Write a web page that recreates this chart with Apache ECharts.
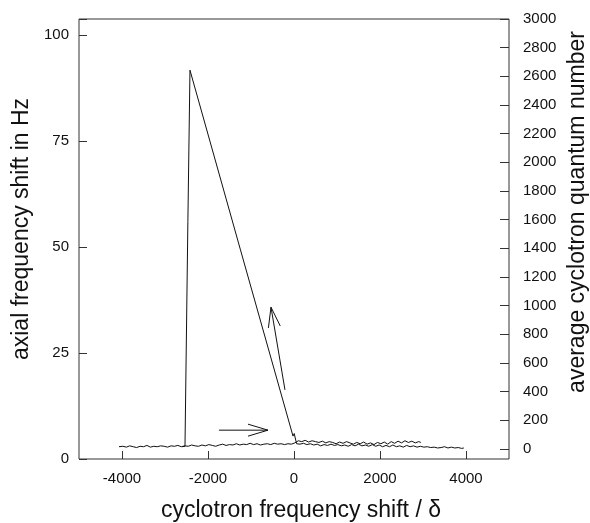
<!DOCTYPE html>
<html>
<head>
<meta charset="utf-8">
<script src="https://cdn.jsdelivr.net/npm/echarts@6/dist/echarts.min.js"></script>
<style>html,body{margin:0;padding:0;background:#fff}#c{width:590px;height:523px}</style>
</head>
<body>
<div id="c"></div>
<script>
// ---- data (x: cyclotron frequency shift / delta, y: axial frequency shift in Hz) ----
const xTicks = [-4000, -2000, 0, 2000, 4000];
const leftTicks = [0, 25, 50, 75, 100];
const rightTicks = [0, 200, 400, 600, 800, 1000, 1200, 1400, 1600, 1800, 2000, 2200, 2400, 2600, 2800, 3000];

// forward sweep along the baseline
const sweepUp = [
  [-4070,2.9],[-3980,3.0],[-3900,2.8],[-3820,3.1],[-3740,2.9],[-3660,2.7],[-3580,3.0],[-3500,2.9],
  [-3420,3.2],[-3340,2.8],[-3260,3.0],[-3180,2.9],[-3100,3.1],[-3020,3.0],[-2940,2.8],[-2860,3.1],
  [-2780,3.0],[-2700,3.2],[-2620,2.9],[-2540,3.1],[-2460,3.0],[-2380,3.3],[-2300,3.1],[-2220,3.0],
  [-2140,3.3],[-2060,3.1],[-1980,3.4],[-1900,3.2],[-1820,3.0],[-1740,3.3],[-1660,3.5],[-1580,3.2],
  [-1500,3.4],[-1420,3.3],[-1340,3.6],[-1260,3.3],[-1180,3.5],[-1100,3.4],[-1020,3.7],[-940,3.4],
  [-860,3.6],[-780,3.3],[-700,3.5],[-620,3.6],[-540,3.4],[-460,3.7],[-380,3.5],[-300,3.6],
  [-220,3.4],[-140,3.6],[-60,3.5],[20,3.8],[100,4.3],[180,4.1],[260,4.4],[340,4.0],[420,4.3],
  [500,4.1],[580,3.9],[660,4.2],[740,3.8],[820,4.1],[900,3.9],[980,3.6],[1060,4.0],[1140,3.7],
  [1220,4.1],[1300,3.8],[1380,3.5],[1460,3.9],[1540,3.6],[1620,4.0],[1700,3.5],[1780,3.8],
  [1860,3.4],[1940,3.9],[2020,3.6],[2100,4.0],[2180,3.5],[2260,4.1],[2340,3.7],[2420,4.2],
  [2500,3.8],[2580,4.3],[2660,3.9],[2740,4.2],[2820,3.8],[2900,4.1],[2950,3.9]
];

// backward sweep: baseline, climb along the slope, sudden drop
const sweepDown = [
  [3950,2.6],[3900,2.5],[3820,2.7],[3740,2.6],[3660,2.8],[3580,2.6],[3500,2.9],[3420,2.7],
  [3340,2.6],[3260,2.8],[3180,2.7],[3100,2.9],[3020,2.8],[2940,3.0],[2860,2.8],[2780,3.1],
  [2700,2.9],[2620,3.2],[2540,2.8],[2460,3.1],[2380,2.9],[2300,3.3],[2220,2.9],[2140,3.2],
  [2060,2.9],[1980,3.3],[1900,3.0],[1820,3.4],[1740,3.0],[1660,3.3],[1580,3.1],[1500,3.5],
  [1420,3.1],[1340,3.4],[1260,3.0],[1180,3.3],[1100,3.1],[1020,3.4],[940,3.2],[860,3.5],
  [780,3.2],[700,3.4],[620,3.1],[540,3.5],[460,3.3],[380,3.6],[300,3.4],[220,3.7],[140,3.5],
  [60,3.6],[20,3.3],[5,6.0],[-23,5.4],[-1250,49.5],[-2419,91.7],[-2468,56.0],[-2535,3.0],[-2600,2.9]
];

// annotation arrows: [x tail, y tail, x head, y head]
const arrows = [
  [-1745, 6.8, -605, 6.8],
  [-210, 16.3, -535, 35.8]
];

const FONT = '"Liberation Sans", Arial, sans-serif';
const INK = '#111';
const AXC = '#333';

const chart = echarts.init(document.getElementById('c'), null, {renderer: 'canvas'});
chart.setOption({
  animation: false,
  backgroundColor: '#fff',
  grid: [
    {left: 79, right: 81, top: 19, bottom: 64, show: true, borderColor: AXC, borderWidth: 1, backgroundColor: 'transparent'},
    {left: 122, right: 124, top: 19, bottom: 64, show: false},
    {left: 79, right: 81, top: 19, bottom: 74, show: false}
  ],
  xAxis: [
    {gridIndex: 0, type: 'value', min: -5000, max: 5000, show: false, axisLine: {onZero: false}},
    {gridIndex: 1, type: 'value', min: -4000, max: 4000, interval: 2000, position: 'bottom',
      axisLine: {show: false, onZero: false}, splitLine: {show: false},
      axisTick: {show: true, inside: true, length: 8, lineStyle: {color: AXC}},
      axisLabel: {margin: 12, color: INK, fontFamily: FONT, fontSize: 15,
        formatter: v => xTicks.includes(v) ? String(v) : ''}},
    {gridIndex: 2, type: 'value', min: 0, max: 1, show: false, axisLine: {onZero: false}}
  ],
  yAxis: [
    {gridIndex: 0, type: 'value', min: 0, max: 103.77, interval: 25, position: 'left',
      axisLine: {show: false, onZero: false}, splitLine: {show: false},
      axisTick: {show: true, inside: true, length: 8, lineStyle: {color: AXC}},
      axisLabel: {margin: 10, color: INK, fontFamily: FONT, fontSize: 15,
        formatter: v => leftTicks.includes(v) ? String(v) : ''}},
    {gridIndex: 1, type: 'value', min: 0, max: 1, show: false, axisLine: {onZero: false}},
    {gridIndex: 2, type: 'value', min: 0, max: 3000, interval: 200, position: 'right',
      axisLine: {show: false, onZero: false}, splitLine: {show: false},
      axisTick: {show: true, inside: true, length: 9, lineStyle: {color: AXC}},
      axisLabel: {margin: 14, color: INK, fontFamily: FONT, fontSize: 15,
        formatter: v => rightTicks.includes(v) ? String(v) : ''}}
  ],
  series: [
    {type: 'line', xAxisIndex: 0, yAxisIndex: 0, data: sweepUp, showSymbol: false,
      lineStyle: {color: INK, width: 1}},
    {type: 'line', xAxisIndex: 0, yAxisIndex: 0, data: sweepDown, showSymbol: false,
      lineStyle: {color: INK, width: 1}},
    {type: 'custom', xAxisIndex: 0, yAxisIndex: 0, data: arrows,
      encode: {x: [0, 2], y: [1, 3]},
      renderItem: function (params, api) {
        const p0 = api.coord([api.value(0), api.value(1)]);
        const p1 = api.coord([api.value(2), api.value(3)]);
        const dx = p1[0] - p0[0], dy = p1[1] - p0[1];
        const L = Math.sqrt(dx * dx + dy * dy);
        const ux = dx / L, uy = dy / L;
        const hl = 20, hw = 6;
        const bx = p1[0] - ux * hl, by = p1[1] - uy * hl;
        const a = [bx - uy * hw, by + ux * hw];
        const b = [bx + uy * hw, by - ux * hw];
        return {
          type: 'group',
          children: [
            {type: 'polyline', shape: {points: [p0, p1]}, style: {stroke: INK, lineWidth: 1, fill: null}},
            {type: 'polyline', shape: {points: [a, p1, b]}, style: {stroke: INK, lineWidth: 1, fill: null}}
          ]
        };
      }}
  ],
  graphic: [
    {type: 'text', x: 22, y: 229, rotation: Math.PI / 2,
      style: {text: 'axial frequency shift in Hz', font: '23px ' + FONT, fill: INK,
        textAlign: 'center', textVerticalAlign: 'middle', verticalAlign: 'middle'}},
    {type: 'text', x: 578, y: 212, rotation: Math.PI / 2,
      style: {text: 'average cyclotron quantum number', font: '23px ' + FONT, fill: INK,
        textAlign: 'center', textVerticalAlign: 'middle', verticalAlign: 'middle'}},
    {type: 'text', x: 301, y: 511,
      style: {text: 'cyclotron frequency shift / δ', font: '23px ' + FONT, fill: INK,
        textAlign: 'center', textVerticalAlign: 'middle', verticalAlign: 'middle'}}
  ]
});
</script>
</body>
</html>
